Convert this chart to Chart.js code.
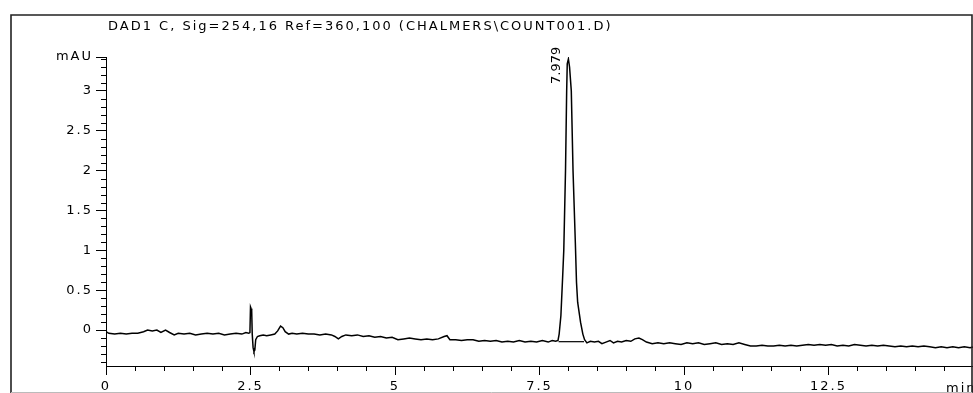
<!DOCTYPE html>
<html>
<head>
<meta charset="utf-8">
<script src="https://cdn.jsdelivr.net/npm/chart.js@4.4.1/dist/chart.umd.min.js"></script>
<style>
  html, body { margin: 0; padding: 0; background: #fff; }
  #wrap { width: 973px; height: 393px; }
</style>
</head>
<body>
<div id="wrap"><canvas id="chrom" width="973" height="393"></canvas></div>
<script>
// signal trace (time in min, absorbance in mAU)
const sigTime = [
  0.00, 0.05, 0.15, 0.25, 0.35, 0.45, 0.55, 0.65, 0.72, 0.80, 0.88, 0.95, 1.03, 1.10, 1.18, 1.25,
  1.35, 1.45, 1.55, 1.65, 1.75, 1.85, 1.95, 2.05, 2.15, 2.25, 2.35, 2.42, 2.47,
  2.49, 2.50, 2.51, 2.52, 2.53, 2.545, 2.56, 2.575, 2.59, 2.62, 2.66, 2.72, 2.78, 2.85, 2.92, 2.97,
  3.02, 3.06, 3.10, 3.16, 3.22, 3.30, 3.40, 3.50, 3.60, 3.70, 3.80, 3.90, 3.96, 4.02, 4.08, 4.15,
  4.25, 4.35, 4.45, 4.55, 4.65, 4.75, 4.85, 4.95, 5.05, 5.15, 5.25, 5.35, 5.45, 5.55, 5.65, 5.75,
  5.85, 5.90, 5.95, 6.05, 6.15, 6.25, 6.35, 6.45, 6.55, 6.65, 6.75, 6.85, 6.95, 7.05, 7.15, 7.25,
  7.35, 7.45, 7.55, 7.65, 7.72, 7.78, 7.82,
  7.84, 7.87, 7.90, 7.92, 7.95, 7.97, 7.98, 8.00, 8.02, 8.05, 8.08, 8.12, 8.14, 8.16, 8.21, 8.25, 8.28,
  8.32, 8.38, 8.45, 8.52, 8.58, 8.65, 8.72, 8.78, 8.85, 8.92, 9.00, 9.08, 9.15, 9.22, 9.28, 9.35,
  9.45, 9.55, 9.65, 9.75, 9.85, 9.95, 10.05, 10.15, 10.25, 10.35, 10.45, 10.55, 10.65, 10.75, 10.85,
  10.95, 11.05, 11.15, 11.25, 11.35, 11.45, 11.55, 11.65, 11.75, 11.85, 11.95, 12.05, 12.15, 12.25,
  12.35, 12.45, 12.55, 12.65, 12.75, 12.85, 12.95, 13.05, 13.15, 13.25, 13.35, 13.45, 13.55, 13.65,
  13.75, 13.85, 13.95, 14.05, 14.15, 14.25, 14.35, 14.45, 14.55, 14.65, 14.75, 14.85, 14.95, 15.00
];
const sigValue = [
  -0.02, -0.04, -0.05, -0.04, -0.05, -0.04, -0.04, -0.02, 0.00, -0.01, 0.00, -0.03, 0.00, -0.03, -0.06, -0.04,
  -0.05, -0.04, -0.06, -0.05, -0.04, -0.05, -0.04, -0.06, -0.05, -0.04, -0.05, -0.03, -0.04,
  -0.03, 0.29, 0.27, 0.26, -0.05, -0.22, -0.27, -0.25, -0.12, -0.08, -0.07, -0.06, -0.07, -0.06, -0.05, -0.01,
  0.05, 0.03, -0.02, -0.05, -0.04, -0.05, -0.04, -0.05, -0.05, -0.06, -0.05, -0.06, -0.08, -0.11, -0.08, -0.06,
  -0.07, -0.06, -0.08, -0.07, -0.09, -0.08, -0.10, -0.09, -0.12, -0.11, -0.10, -0.11, -0.12, -0.11, -0.12, -0.11,
  -0.08, -0.07, -0.12, -0.12, -0.13, -0.12, -0.12, -0.14, -0.13, -0.14, -0.13, -0.15, -0.14, -0.15, -0.13, -0.15,
  -0.14, -0.15, -0.13, -0.15, -0.13, -0.14, -0.13,
  -0.05, 0.18, 0.66, 1.00, 2.00, 3.00, 3.34, 3.40, 3.30, 3.00, 2.00, 1.10, 0.60, 0.35, 0.10, -0.05, -0.12,
  -0.16, -0.14, -0.15, -0.14, -0.17, -0.15, -0.13, -0.16, -0.14, -0.15, -0.13, -0.14, -0.11, -0.10, -0.12, -0.15,
  -0.17, -0.16, -0.17, -0.16, -0.17, -0.18, -0.16, -0.17, -0.16, -0.18, -0.17, -0.16, -0.18, -0.17, -0.18,
  -0.16, -0.18, -0.20, -0.20, -0.19, -0.20, -0.20, -0.19, -0.20, -0.19, -0.20, -0.19, -0.18, -0.19,
  -0.18, -0.19, -0.18, -0.20, -0.19, -0.20, -0.18, -0.19, -0.20, -0.19, -0.20, -0.19, -0.20, -0.21,
  -0.20, -0.21, -0.20, -0.21, -0.20, -0.21, -0.22, -0.21, -0.22, -0.21, -0.22, -0.21, -0.22, -0.21
];

// integration baseline under the peak
const peakBaseTime = [7.83, 8.27];
const peakBaseValue = [-0.145, -0.145];

const peakTime = 7.979;
const peakText = '7.979';

const xMajor = [0, 2.5, 5, 7.5, 10, 12.5, 15];
const xLabels = ['0', '2.5', '5', '7.5', '10', '12.5', ''];
const xUnit = 'min';
const yMajor = [0, 0.5, 1, 1.5, 2, 2.5, 3, 3.425];
const yLabels = ['0', '0.5', '1', '1.5', '2', '2.5', '3', 'mAU'];

const title = 'DAD1 C, Sig=254,16 Ref=360,100 (CHALMERS\\COUNT001.D)';
const FONT = 'DejaVu Sans';

// minor ticks, title, peak label and outer frame
const decor = {
  id: 'decor',
  beforeDraw(chart) {
    chart.ctx.letterSpacing = '2px';
  },
  afterDraw(chart) {
    const ctx = chart.ctx;
    const xs = chart.scales.x, ys = chart.scales.y;
    const area = chart.chartArea;
    ctx.save();
    ctx.strokeStyle = '#000';
    ctx.lineWidth = 1;
    ctx.beginPath();
    for (let i = 1; i < 30; i++) {
      const v = i * 0.5;
      if (xMajor.includes(v)) continue;
      const px = Math.round(xs.getPixelForValue(v)) + 0.5;
      ctx.moveTo(px, area.bottom);
      ctx.lineTo(px, area.bottom + 5);
    }
    for (let i = -4; i <= 34; i++) {
      if (i % 5 === 0) continue;
      const py = Math.round(ys.getPixelForValue(i / 10)) + 0.5;
      ctx.moveTo(area.left - 5, py);
      ctx.lineTo(area.left, py);
    }
    ctx.stroke();

    ctx.fillStyle = '#000';
    ctx.font = '13px "' + FONT + '"';
    ctx.textAlign = 'left';
    ctx.textBaseline = 'alphabetic';
    ctx.fillText(title, 108, 30);
    // unit sits at the right end of the time axis
    ctx.fillText(xUnit, 946, 392);

    // retention time, written upwards beside the peak
    ctx.letterSpacing = '0px';
    ctx.translate(xs.getPixelForValue(peakTime) - 11, 84);
    ctx.rotate(-Math.PI / 2);
    ctx.textBaseline = 'middle';
    ctx.fillText(peakText, 0, 0);
    ctx.restore();

    ctx.save();
    ctx.strokeStyle = '#222';
    ctx.lineWidth = 1.6;
    ctx.beginPath();
    ctx.moveTo(11, 393);
    ctx.lineTo(11, 15);
    ctx.lineTo(972, 15);
    ctx.lineTo(972, 393);
    ctx.stroke();
    ctx.strokeStyle = '#bbb';
    ctx.lineWidth = 1;
    ctx.beginPath();
    ctx.moveTo(11, 392.5);
    ctx.lineTo(972, 392.5);
    ctx.stroke();
    ctx.restore();
  }
};

new Chart(document.getElementById('chrom'), {
  type: 'line',
  data: {
    datasets: [{
      data: sigTime.map((t, i) => ({ x: t, y: sigValue[i] })),
      borderColor: '#000',
      borderWidth: 1.5,
      pointRadius: 0,
      tension: 0
    }, {
      data: peakBaseTime.map((t, i) => ({ x: t, y: peakBaseValue[i] })),
      borderColor: '#000',
      borderWidth: 1.2,
      pointRadius: 0
    }]
  },
  options: {
    responsive: false,
    animation: false,
    devicePixelRatio: 1,
    layout: { padding: { top: 57, right: 0, left: 0, bottom: 0 } },
    plugins: { legend: { display: false }, tooltip: { enabled: false } },
    scales: {
      x: {
        type: 'linear',
        min: 0,
        max: 15,
        afterBuildTicks: s => { s.ticks = xMajor.map(v => ({ value: v })); },
        afterFit: s => { s.height = 27; s.paddingLeft = 0; s.paddingRight = 0; },
        ticks: {
          autoSkip: false,
          maxRotation: 0,
          padding: 4,
          color: '#000',
          font: { family: FONT, size: 13 },
          callback: (v, i) => xLabels[i]
        },
        grid: { drawOnChartArea: false, color: '#000', tickLength: 9 },
        border: { color: '#000' }
      },
      y: {
        min: -0.45,
        max: 3.425,
        afterBuildTicks: s => { s.ticks = yMajor.map(v => ({ value: v })); },
        afterFit: s => { s.width = 106; s.paddingTop = 0; s.paddingBottom = 0; },
        ticks: {
          autoSkip: false,
          padding: 3,
          color: '#000',
          font: { family: FONT, size: 13 },
          callback: (v, i) => yLabels[i]
        },
        grid: { drawOnChartArea: false, color: '#000', tickLength: 10 },
        border: { color: '#000' }
      }
    }
  },
  plugins: [decor]
});
</script>
</body>
</html>
